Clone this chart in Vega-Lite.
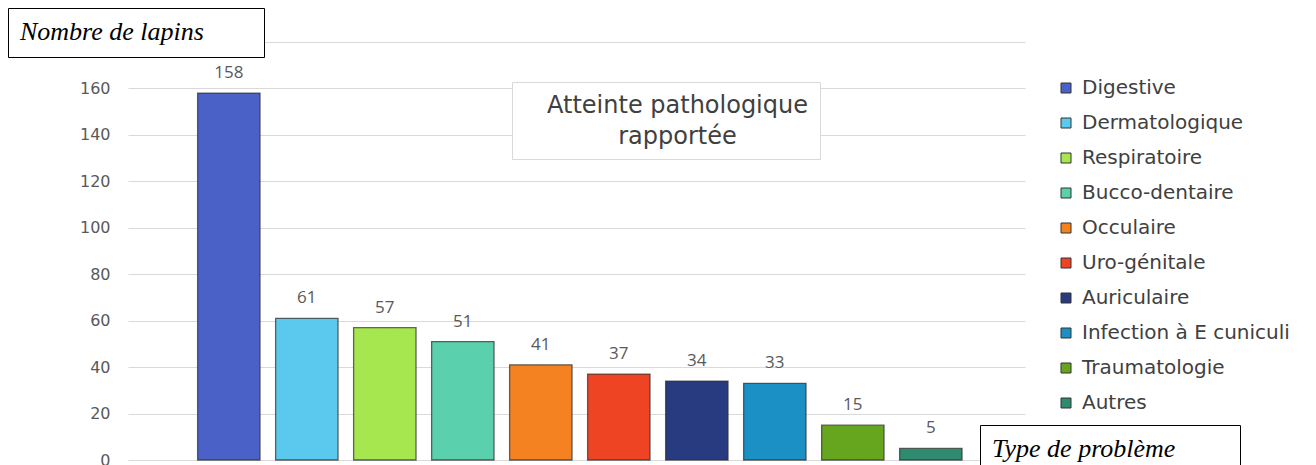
{
  "$schema": "https://vega.github.io/schema/vega-lite/v6.json",
  "width": 897,
  "height": 418,
  "autosize": {"type": "none"},
  "padding": {"left": 128, "top": 42, "right": 291, "bottom": 5},
  "background": "white",
  "config": {"view": {"stroke": null}},
  "title": {"text": ["Atteinte pathologique", "rapportée"], "anchor": "middle", "frame": "group",
            "baseline": "top", "offset": 0, "dx": 101, "dy": 141, "font": "DejaVu Sans", "fontSize": 24,
            "fontWeight": "normal", "color": "#404040", "lineHeight": 31},
  "data": {
    "values": [
      {"category": "Digestive", "value": 158},
      {"category": "Dermatologique", "value": 61},
      {"category": "Respiratoire", "value": 57},
      {"category": "Bucco-dentaire", "value": 51},
      {"category": "Occulaire", "value": 41},
      {"category": "Uro-génitale", "value": 37},
      {"category": "Auriculaire", "value": 34},
      {"category": "Infection à  E cuniculi", "value": 33},
      {"category": "Traumatologie", "value": 15},
      {"category": "Autres", "value": 5}
    ]
  },
  "layer": [
    {
      "mark": {"type": "bar", "strokeOpacity": 0.75},
      "encoding": {
        "x": {"field": "category", "type": "nominal", "sort": null, "axis": null,
              "scale": {"paddingInner": 0.2, "paddingOuter": 0.85, "align": 0.525}},
        "y": {"field": "value", "type": "quantitative",
              "scale": {"domain": [0, 180]},
              "axis": {"values": [0, 20, 40, 60, 80, 100, 120, 140, 160, 180],
                       "labelExpr": "datum.value == 180 ? '' : datum.label",
                       "domain": false, "ticks": false, "labelPadding": 18,
                       "labelFont": "DejaVu Sans", "labelFontSize": 16, "labelColor": "#595959",
                       "gridColor": "#d9d9d9", "gridWidth": 1, "title": null}},
        "color": {"field": "category", "type": "nominal",
                  "scale": {"domain": ["Digestive", "Dermatologique", "Respiratoire", "Bucco-dentaire", "Occulaire", "Uro-génitale", "Auriculaire", "Infection à  E cuniculi", "Traumatologie", "Autres"],
                            "range": ["#4a62c8", "#5bc9ee", "#a6e64e", "#5bd0ac", "#f58220", "#ef4423", "#283a80", "#1a90c4", "#66a61e", "#2e8b6f"]},
                  "legend": {"title": null, "orient": "none", "legendX": 928, "legendY": 36,
                             "symbolType": "square", "symbolSize": 100, "symbolStrokeColor": "#333333", "symbolStrokeWidth": 1,
                             "labelFont": "DejaVu Sans", "labelFontSize": 20, "labelColor": "#404040",
                             "rowPadding": 15, "labelOffset": 6, "labelLimit": 400}},
        "strokeDash": {"field": "category", "type": "ordinal", "scale": {"range": [[1, 0]]},
                    "legend": {"title": "Nombre de lapins", "titleOrient": "left", "values": ["Digestive"], "labelExpr": "''",
                               "symbolType": "square", "symbolSize": 484, "labelOffset": 19, "labelFontSize": 8,
                               "symbolOpacity": 0, "symbolFillColor": "transparent", "symbolStrokeColor": "transparent",
                               "orient": "none",
                               "legendX": -120, "legendY": -34, "strokeColor": "black", "fillColor": "white",
                               "padding": 12, "titleFont": "Liberation Serif", "titleFontStyle": "italic",
                               "titleFontWeight": "normal", "titleFontSize": 26, "titleColor": "black",
                               "titlePadding": 5, "titleLimit": 1000}},
        "strokeWidth": {"field": "value", "type": "ordinal", "scale": {"range": [1.3, 1.3]},
                    "legend": {"title": "Type de problème", "titleOrient": "left", "values": [5], "labelExpr": "''",
                               "symbolType": "square", "symbolSize": 484, "labelOffset": 23, "labelFontSize": 8,
                               "symbolOpacity": 0, "symbolFillColor": "transparent", "symbolStrokeColor": "transparent",
                               "orient": "none",
                               "legendX": 852, "legendY": 383, "strokeColor": "black", "fillColor": "white",
                               "padding": 12, "titleFont": "Liberation Serif", "titleFontStyle": "italic",
                               "titleFontWeight": "normal", "titleFontSize": 26, "titleColor": "black",
                               "titlePadding": 5, "titleLimit": 1000}},
        "stroke": {"field": "category", "type": "nominal", "sort": "descending", "scale": {"range": ["#333333"]},
                    "legend": {"title": null, "values": ["Autres"], "labelExpr": "''",
                               "symbolType": "square", "symbolSize": 2116,
                               "symbolOpacity": 0, "symbolFillColor": "transparent", "symbolStrokeColor": "transparent",
                               "labelOffset": 230, "labelFontSize": 8,
                               "orient": "none", "legendX": 384, "legendY": 40,
                               "strokeColor": "#d9d9d9", "fillColor": "white", "padding": 15}}
      }
    },
    {
      "mark": {"type": "text", "baseline": "alphabetic", "dy": -15, "font": "Open Sans", "fontSize": 17, "color": "#595959"},
      "encoding": {
        "x": {"field": "category", "type": "nominal", "sort": null},
        "y": {"field": "value", "type": "quantitative"},
        "text": {"field": "value", "type": "quantitative"}
      }
    }
  ]
}
